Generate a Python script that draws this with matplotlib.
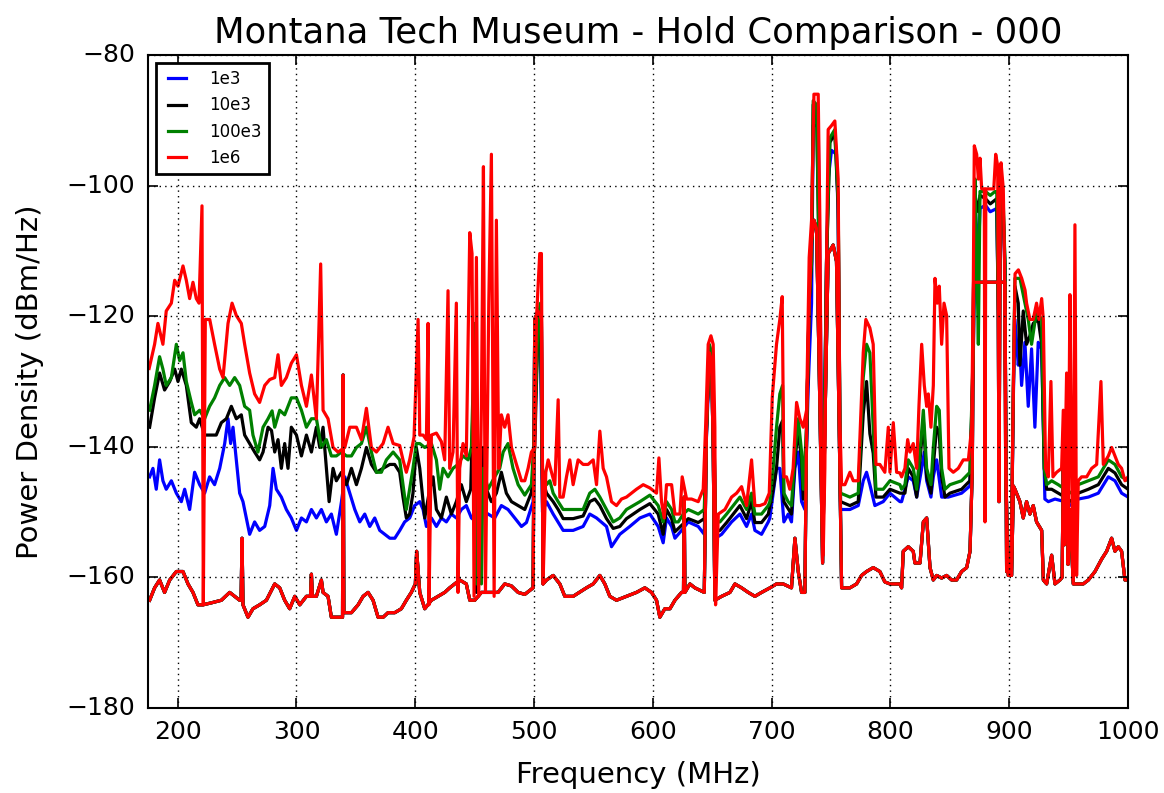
import matplotlib
matplotlib.use("Agg")
import matplotlib.pyplot as plt

# Max-hold traces (frequency MHz, power density dBm/Hz) per RBW setting
RED_MAX = [
    (176.0, -128.0), (180.6, -124.3), (183.4, -121.1), (187.6, -124.3), (190.4, -119.2), (194.7, -118.0),
    (197.5, -114.5), (200.3, -115.4), (204.5, -112.3), (207.3, -114.5), (210.1, -117.3), (212.9, -114.8),
    (215.7, -117.3), (218.0, -118.0), (220.5, -103.1), (221.6, -164.2), (223.3, -120.5), (227.0, -120.5),
    (231.1, -124.3), (235.4, -128.1), (238.2, -129.4), (242.4, -121.1), (245.8, -118.0), (249.4, -119.9),
    (253.6, -121.1), (256.4, -124.3), (260.6, -128.7), (264.8, -131.9), (269.0, -133.2), (273.3, -130.6),
    (277.5, -129.7), (281.7, -129.4), (284.5, -125.9), (287.3, -130.6), (291.5, -129.4), (295.7, -127.2),
    (300.0, -125.9), (304.2, -130.6), (308.4, -133.8), (312.6, -129.0), (316.8, -135.7), (320.4, -112.0),
    (322.4, -134.4), (326.6, -135.7), (330.8, -140.1), (335.0, -140.8), (340.7, -140.1), (344.9, -137.0),
    (350.5, -137.0), (354.7, -138.9), (358.9, -134.1), (363.1, -140.1), (367.3, -140.8), (372.9, -139.5),
    (377.1, -137.0), (381.4, -139.5), (386.9, -139.8), (389.7, -142.0), (392.5, -143.9), (395.3, -142.0),
    (399.0, -138.5), (402.4, -120.5), (403.8, -138.2), (406.6, -138.2), (409.4, -138.9), (410.8, -121.1),
    (411.6, -164.2), (413.6, -138.2), (417.8, -137.9), (422.0, -139.2), (424.8, -142.0), (427.6, -116.1),
    (429.0, -143.3), (431.8, -140.8), (434.6, -118.0), (436.0, -162.3), (437.4, -143.3), (440.2, -139.5),
    (443.0, -141.4), (445.9, -107.2), (447.8, -110.4), (449.5, -162.9), (451.5, -111.0), (453.4, -162.9),
    (455.7, -133.8), (457.4, -97.1), (459.1, -162.3), (461.9, -118.0), (464.1, -95.2), (466.4, -162.9),
    (468.3, -105.3), (470.3, -143.3), (472.5, -135.1), (475.3, -137.0), (478.1, -135.1), (481.0, -140.1),
    (485.2, -142.7), (489.4, -145.2), (492.2, -145.2), (495.0, -143.3), (497.8, -140.8), (500.6, -140.1),
    (502.0, -120.5), (504.8, -110.4), (506.2, -110.4), (507.6, -161.0), (509.9, -143.9), (511.9, -142.0),
    (514.7, -143.9), (517.5, -145.8), (520.3, -132.8), (521.7, -147.7), (524.5, -147.7), (527.3, -144.6),
    (530.1, -142.0), (532.9, -145.8), (537.1, -142.0), (541.3, -142.7), (545.5, -142.7), (549.8, -142.0),
    (552.6, -145.8), (555.4, -137.6), (558.2, -143.3), (561.0, -144.6), (565.2, -148.4), (569.4, -149.0),
    (573.6, -148.0), (577.8, -147.7), (582.0, -147.1), (586.2, -146.5), (591.9, -145.8), (597.5, -146.3),
    (603.1, -147.1), (605.1, -141.7), (607.3, -148.4), (609.6, -150.9), (611.5, -145.8), (615.8, -145.8),
    (618.6, -150.3), (622.8, -150.3), (624.7, -144.6), (628.4, -148.0), (632.6, -148.0), (638.2, -148.4),
    (642.4, -146.5), (644.4, -137.0), (646.6, -124.3), (648.9, -123.0), (650.8, -124.3), (652.2, -137.0),
    (652.8, -164.2), (655.1, -150.3), (660.7, -149.6), (666.3, -147.7), (670.5, -147.1), (674.7, -146.1),
    (678.9, -149.0), (683.1, -142.0), (685.9, -149.0), (690.1, -149.0), (694.4, -148.7), (698.0, -147.1),
    (700.5, -132.5), (704.1, -124.3), (706.9, -120.5), (708.9, -117.0), (710.3, -144.6), (712.5, -144.6),
    (715.3, -146.5), (718.1, -143.3), (721.0, -133.2), (723.8, -135.7), (726.6, -137.0), (729.4, -134.4),
    (731.6, -111.0), (733.6, -105.3), (735.6, -86.0), (739.2, -86.0), (740.6, -105.3), (742.0, -143.3),
    (743.4, -156.6), (744.8, -143.3), (746.2, -111.6), (747.6, -91.4), (750.4, -90.8), (753.2, -90.1),
    (756.0, -99.0), (757.4, -135.7), (758.9, -145.8), (761.7, -145.8), (765.9, -143.9), (768.7, -145.2),
    (772.9, -145.2), (777.1, -125.6), (779.3, -120.5), (782.7, -121.8), (785.5, -124.3), (787.8, -142.7),
    (791.1, -142.7), (795.3, -143.9), (798.2, -137.0), (799.6, -143.9), (802.4, -136.3), (805.2, -143.9),
    (808.0, -144.0), (809.4, -144.6), (812.2, -143.3), (814.5, -138.9), (816.4, -140.8), (819.2, -139.5),
    (822.1, -143.3), (824.0, -133.8), (826.3, -124.3), (828.5, -130.6), (830.5, -133.8), (831.9, -131.9),
    (834.1, -137.0), (836.1, -130.6), (837.5, -114.2), (839.4, -118.0), (841.1, -115.4), (843.1, -124.3),
    (845.1, -118.0), (847.3, -119.9), (849.3, -143.3), (852.9, -143.9), (857.1, -143.3), (861.3, -142.0),
    (865.6, -142.0), (868.4, -137.0), (869.8, -114.2), (870.6, -93.9), (872.6, -95.2), (874.0, -99.0),
    (875.4, -95.8), (876.8, -100.5), (879.0, -100.5), (879.6, -151.5), (880.3, -100.5), (884.0, -100.5),
    (887.0, -100.5), (888.6, -95.2), (890.3, -97.0), (891.4, -148.4), (892.5, -100.0), (893.1, -96.5),
    (895.0, -100.5), (896.0, -111.6), (897.0, -143.3), (899.2, -159.7), (901.5, -159.7), (903.5, -130.6),
    (904.9, -113.5), (907.7, -112.9), (910.5, -114.2), (913.3, -116.0), (914.6, -118.0), (917.4, -120.5),
    (920.2, -120.5), (923.0, -118.0), (925.0, -120.5), (927.3, -117.3), (928.7, -120.5), (930.6, -143.3),
    (932.9, -144.6), (935.1, -130.0), (936.8, -144.6), (939.9, -143.9), (944.1, -143.3), (945.5, -134.4),
    (946.9, -143.3), (948.3, -128.7), (949.7, -149.6), (951.1, -116.7), (952.5, -143.3), (953.9, -160.4),
    (955.3, -106.0), (956.7, -159.7), (958.1, -145.2), (960.9, -144.6), (965.2, -144.6), (969.4, -143.3),
    (973.6, -142.7), (977.2, -130.0), (979.2, -142.7), (983.4, -141.4), (986.2, -140.1), (989.0, -141.4),
    (991.8, -142.7), (994.6, -143.3), (997.4, -145.2), (1000.0, -144.6),
]

GREEN_MAX = [
    (176.4, -134.4), (180.6, -130.6), (184.8, -126.2), (187.6, -128.1), (190.4, -130.6), (194.7, -129.4),
    (198.9, -124.3), (201.7, -126.8), (204.5, -125.6), (207.3, -130.0), (211.5, -133.2), (214.3, -135.1),
    (218.5, -134.4), (222.7, -135.7), (226.9, -133.8), (231.1, -132.5), (235.4, -130.6), (239.6, -129.4),
    (243.8, -130.6), (248.0, -129.4), (252.2, -130.6), (256.4, -133.8), (260.6, -134.4), (263.4, -138.2),
    (267.6, -140.8), (271.9, -137.0), (276.1, -135.7), (279.5, -134.5), (281.7, -137.0), (285.9, -134.4),
    (290.1, -135.1), (295.7, -132.5), (300.0, -132.5), (304.2, -134.4), (308.4, -137.0), (312.6, -135.7),
    (316.8, -135.7), (321.0, -140.1), (325.2, -138.9), (329.4, -141.4), (333.6, -141.4), (337.9, -140.8),
    (342.1, -141.4), (346.3, -141.4), (350.5, -140.1), (354.7, -139.5), (358.9, -137.0), (363.1, -140.8),
    (367.3, -143.9), (371.5, -143.9), (375.7, -142.0), (381.4, -140.8), (386.9, -142.0), (389.7, -145.8),
    (392.5, -149.6), (395.3, -146.5), (398.1, -143.3), (400.9, -139.5), (403.8, -139.5), (408.0, -140.1),
    (413.6, -139.5), (417.8, -142.0), (420.6, -146.5), (423.4, -143.3), (427.6, -144.6), (431.8, -143.3),
    (436.0, -142.7), (440.2, -141.4), (444.5, -142.0), (447.3, -140.1), (450.1, -121.1), (451.5, -161.0),
    (452.9, -143.3), (455.7, -161.0), (457.1, -143.3), (461.3, -146.5), (466.9, -144.6), (471.1, -143.3),
    (474.0, -140.8), (478.1, -139.5), (482.3, -143.3), (486.6, -145.8), (492.2, -147.4), (497.8, -145.8),
    (500.6, -137.0), (503.4, -120.5), (505.4, -118.0), (507.1, -143.3), (510.5, -145.8), (513.3, -145.2),
    (516.1, -147.1), (520.3, -148.4), (524.5, -149.6), (532.9, -149.6), (541.3, -149.6), (546.9, -147.1),
    (551.2, -146.5), (555.4, -147.7), (561.0, -149.6), (566.6, -151.5), (572.2, -150.9), (577.8, -149.6),
    (583.4, -149.0), (589.1, -148.4), (597.5, -147.4), (604.5, -149.0), (608.7, -151.5), (611.5, -148.4),
    (615.8, -149.6), (618.6, -151.5), (621.4, -151.5), (625.6, -150.3), (629.8, -149.6), (638.2, -150.3),
    (643.3, -149.6), (645.2, -137.0), (647.5, -124.3), (649.4, -125.6), (651.7, -140.1), (652.8, -151.5),
    (656.5, -151.5), (662.1, -150.3), (667.7, -149.0), (673.3, -147.7), (678.9, -149.6), (683.1, -147.1),
    (685.9, -150.3), (691.5, -150.3), (697.2, -149.0), (698.5, -148.4), (701.3, -143.3), (704.1, -137.0),
    (706.9, -131.9), (709.2, -130.6), (710.3, -147.1), (713.9, -148.4), (716.7, -149.0), (719.6, -140.8),
    (722.4, -135.7), (725.2, -140.8), (726.6, -146.5), (729.4, -137.0), (731.6, -116.7), (733.6, -111.6),
    (735.0, -87.0), (737.8, -87.6), (740.0, -111.6), (741.2, -133.8), (743.4, -150.0), (746.2, -111.6),
    (749.0, -92.7), (753.2, -91.4), (756.0, -102.2), (758.0, -147.1), (765.9, -147.7), (772.9, -147.1),
    (777.1, -129.4), (779.9, -124.3), (782.7, -125.6), (785.5, -137.0), (787.8, -146.5), (793.9, -146.5),
    (799.6, -145.2), (808.0, -145.8), (809.4, -146.5), (812.2, -145.8), (815.0, -142.0), (819.2, -143.3),
    (822.1, -146.5), (824.9, -140.8), (827.7, -134.4), (830.5, -143.3), (834.1, -145.8), (836.1, -140.1),
    (838.9, -133.8), (841.1, -134.4), (843.1, -143.3), (845.9, -146.5), (850.1, -145.8), (859.9, -145.2),
    (866.9, -143.9), (869.8, -124.3), (871.2, -99.0), (872.6, -110.0), (874.0, -124.3), (875.4, -100.9),
    (880.0, -100.9), (884.0, -101.5), (888.0, -100.9), (889.5, -100.9), (890.8, -120.0), (891.4, -148.4),
    (892.4, -101.0), (894.8, -101.5), (896.4, -111.6), (897.0, -143.3), (899.2, -159.7), (901.5, -159.7),
    (903.5, -130.0), (904.8, -114.2), (909.0, -114.2), (911.8, -116.7), (916.0, -120.5), (918.8, -124.3),
    (923.0, -119.2), (927.3, -120.5), (929.5, -143.3), (931.5, -145.8), (935.7, -145.2), (941.3, -145.8),
    (946.9, -146.5), (952.5, -147.1), (958.1, -145.8), (966.6, -145.2), (975.0, -144.6), (983.4, -142.0),
    (989.0, -142.7), (994.6, -144.6), (1000.0, -145.2),
]

BLACK_MAX = [
    (176.4, -137.0), (180.6, -132.5), (184.8, -128.7), (189.0, -131.3), (193.3, -130.0), (197.5, -128.1),
    (200.3, -130.0), (203.1, -128.1), (207.3, -130.6), (211.5, -136.3), (215.7, -137.0), (218.5, -135.7),
    (222.7, -138.2), (228.3, -138.2), (232.5, -138.2), (236.8, -136.3), (241.0, -135.7), (245.2, -133.8),
    (249.4, -135.7), (253.6, -135.1), (256.4, -138.2), (260.6, -139.5), (264.8, -140.8), (269.0, -142.0),
    (271.9, -140.8), (276.1, -137.0), (279.0, -137.5), (281.7, -140.8), (284.5, -138.9), (287.3, -143.3),
    (290.1, -139.5), (292.9, -143.3), (295.7, -137.0), (300.0, -138.2), (304.2, -141.4), (308.4, -138.2),
    (312.6, -140.8), (316.8, -137.0), (319.6, -140.1), (322.4, -137.0), (325.2, -143.3), (327.5, -148.4),
    (330.8, -143.3), (333.6, -145.2), (337.9, -143.9), (342.1, -145.8), (346.3, -143.3), (350.5, -145.8),
    (354.7, -143.3), (358.9, -140.1), (363.1, -142.7), (367.3, -143.9), (373.0, -143.3), (378.6, -142.7),
    (382.7, -142.7), (386.9, -143.9), (389.7, -147.7), (392.5, -150.9), (395.3, -150.3), (398.1, -147.1),
    (400.9, -140.1), (403.8, -143.3), (408.0, -150.9), (412.2, -146.5), (415.0, -144.6), (417.8, -149.6),
    (422.0, -150.9), (426.2, -147.7), (430.4, -150.3), (434.6, -148.4), (438.8, -145.8), (443.0, -148.4),
    (446.7, -146.5), (450.1, -124.3), (451.5, -162.3), (454.3, -146.5), (457.1, -140.1), (459.9, -146.5),
    (464.1, -148.4), (468.3, -147.1), (472.5, -143.9), (476.7, -147.1), (481.0, -148.4), (486.6, -149.0),
    (492.2, -149.6), (497.8, -147.0), (500.6, -140.0), (503.4, -121.1), (505.4, -120.0), (507.1, -145.0),
    (510.5, -147.1), (516.1, -148.4), (520.3, -149.6), (524.5, -151.0), (532.9, -151.0), (541.3, -150.6),
    (546.9, -148.4), (551.2, -148.0), (555.4, -149.0), (561.0, -151.0), (566.6, -152.5), (572.2, -152.2),
    (577.8, -151.0), (583.4, -150.3), (589.1, -149.6), (597.5, -148.7), (604.5, -150.3), (608.7, -153.4),
    (611.5, -149.6), (615.8, -151.0), (618.6, -153.0), (625.6, -151.8), (629.8, -151.0), (638.2, -151.6),
    (643.3, -151.0), (645.2, -137.0), (647.5, -124.5), (649.4, -126.0), (651.7, -140.1), (652.8, -153.0),
    (656.5, -152.8), (662.1, -151.6), (667.7, -150.3), (673.3, -149.0), (678.9, -151.0), (683.1, -148.4),
    (685.9, -151.6), (691.5, -151.6), (697.2, -150.3), (701.3, -146.5), (704.1, -143.3), (706.9, -137.0),
    (709.2, -136.0), (710.3, -148.4), (716.7, -150.3), (719.6, -142.0), (722.4, -137.5), (725.2, -142.0),
    (726.6, -148.0), (729.4, -140.0), (731.6, -118.0), (733.6, -112.0), (735.0, -87.6), (737.8, -88.2),
    (740.0, -112.0), (741.2, -135.0), (743.4, -151.0), (746.2, -112.0), (749.0, -93.4), (753.2, -92.0),
    (756.0, -103.0), (758.0, -148.4), (765.9, -149.0), (772.9, -148.4), (777.1, -135.0), (779.9, -130.0),
    (782.7, -138.0), (785.5, -141.0), (787.8, -147.7), (793.9, -147.7), (799.6, -146.5), (808.0, -147.1),
    (812.2, -147.1), (815.0, -143.3), (819.2, -144.6), (822.1, -147.7), (824.9, -142.0), (827.7, -136.0),
    (830.5, -144.6), (834.1, -147.1), (838.9, -137.0), (841.1, -138.0), (843.1, -144.6), (845.9, -147.7),
    (850.1, -147.1), (859.9, -146.5), (866.9, -145.2), (869.8, -125.0), (871.2, -101.5), (874.0, -104.0),
    (875.4, -101.5), (880.0, -102.0), (884.0, -102.8), (889.5, -102.0), (890.8, -120.0), (891.4, -148.4),
    (892.4, -102.0), (894.8, -102.8), (896.4, -112.0), (897.0, -143.3), (899.2, -159.7), (901.5, -159.7),
    (903.5, -131.0), (904.8, -115.4), (907.6, -118.0), (909.0, -127.5), (911.8, -119.2), (914.6, -124.3),
    (917.4, -123.0), (920.2, -121.1), (924.4, -120.5), (927.3, -124.3), (929.5, -143.3), (931.5, -146.5),
    (935.7, -146.5), (941.3, -147.1), (946.9, -147.7), (952.5, -148.4), (958.1, -147.1), (966.6, -146.5),
    (975.0, -145.8), (983.4, -143.3), (989.0, -144.0), (994.6, -145.8), (1000.0, -146.5),
]

BLUE_MAX = [
    (176.4, -144.6), (179.2, -143.3), (182.0, -146.5), (184.8, -142.0), (187.6, -145.2), (190.4, -146.5),
    (194.7, -145.2), (198.9, -147.1), (203.1, -148.4), (205.9, -146.5), (210.1, -149.6), (214.3, -143.9),
    (218.5, -145.8), (222.7, -147.1), (226.9, -144.6), (231.1, -145.8), (235.4, -143.3), (239.6, -139.5),
    (242.4, -135.7), (244.6, -139.5), (246.6, -137.0), (249.4, -142.0), (252.2, -147.1), (255.0, -148.4),
    (257.8, -150.9), (260.6, -153.4), (264.8, -151.5), (269.0, -152.8), (273.3, -152.2), (277.5, -149.0),
    (280.3, -143.3), (283.1, -146.5), (287.3, -147.7), (291.5, -149.6), (295.7, -150.9), (300.0, -152.8),
    (304.2, -150.9), (308.4, -151.5), (312.6, -149.6), (316.8, -150.9), (321.0, -149.6), (325.2, -151.5),
    (329.4, -150.3), (333.6, -153.4), (337.9, -148.4), (340.7, -144.6), (344.9, -147.1), (349.1, -149.6),
    (353.3, -151.5), (357.5, -150.3), (361.7, -152.2), (365.9, -150.9), (370.1, -152.8), (374.3, -153.4),
    (378.6, -154.0), (382.8, -154.0), (387.0, -152.8), (391.1, -151.5), (395.3, -150.9), (399.5, -149.0),
    (403.8, -148.4), (406.6, -149.6), (409.4, -152.2), (413.6, -150.9), (417.8, -152.2), (422.0, -150.9),
    (426.2, -151.5), (430.4, -150.3), (434.6, -150.9), (438.8, -149.6), (443.0, -149.0), (447.3, -150.9),
    (451.5, -151.5), (455.7, -149.6), (461.3, -150.3), (466.9, -150.9), (472.5, -149.0), (478.1, -149.6),
    (483.8, -150.9), (489.4, -152.2), (493.6, -151.6), (499.2, -148.4), (501.5, -130.0), (503.4, -122.0),
    (505.4, -122.5), (507.1, -150.0), (510.5, -148.4), (516.1, -150.3), (524.5, -152.8), (532.9, -152.8),
    (541.3, -152.2), (546.9, -150.3), (552.6, -150.9), (561.0, -152.2), (565.2, -155.3), (572.2, -153.4),
    (580.6, -152.2), (589.1, -150.9), (597.5, -150.3), (604.5, -152.2), (608.7, -154.7), (611.5, -150.9),
    (615.8, -152.2), (618.6, -154.0), (624.2, -152.8), (629.8, -151.5), (638.2, -152.2), (643.3, -153.4),
    (645.2, -138.0), (648.0, -125.6), (650.0, -127.0), (651.7, -141.0), (652.8, -154.0), (657.9, -153.4),
    (666.3, -151.5), (673.3, -150.3), (678.9, -152.2), (683.1, -150.3), (685.9, -152.8), (691.5, -153.4),
    (697.2, -151.5), (698.5, -150.9), (704.1, -143.3), (706.9, -143.3), (710.3, -151.5), (714.0, -150.3),
    (716.7, -151.5), (719.6, -143.3), (722.4, -140.8), (725.2, -148.4), (728.0, -149.6), (730.8, -130.6),
    (733.6, -118.0), (735.0, -90.8), (739.2, -90.8), (740.6, -111.6), (742.0, -137.0), (743.4, -152.0),
    (746.2, -111.6), (747.6, -99.0), (750.4, -94.6), (754.6, -95.2), (756.0, -105.3), (758.0, -149.6),
    (765.9, -149.6), (772.9, -149.0), (777.1, -145.2), (779.9, -143.9), (782.7, -145.8), (786.9, -149.0),
    (793.9, -148.4), (799.6, -147.1), (808.0, -148.4), (809.4, -148.4), (815.0, -144.6), (819.2, -145.2),
    (822.1, -147.7), (826.3, -143.3), (828.5, -140.8), (830.5, -145.2), (834.1, -147.7), (836.1, -144.6),
    (838.9, -142.0), (843.1, -147.7), (848.7, -147.7), (859.9, -147.1), (866.9, -146.0), (869.8, -126.0),
    (871.2, -103.0), (874.0, -111.0), (875.4, -103.5), (880.0, -103.0), (884.0, -104.0), (889.5, -103.5),
    (890.8, -120.0), (891.4, -148.4), (892.4, -103.5), (894.8, -104.0), (896.4, -113.0), (897.0, -143.3),
    (899.2, -159.7), (901.5, -159.7), (903.5, -132.0), (904.8, -120.5), (907.6, -127.5), (909.0, -125.0),
    (910.4, -130.6), (913.2, -124.0), (916.0, -133.8), (918.8, -125.0), (921.6, -137.0), (924.4, -124.0),
    (927.3, -125.0), (930.0, -148.0), (932.9, -148.4), (938.5, -148.0), (946.9, -148.4), (952.5, -149.0),
    (958.1, -148.0), (966.6, -147.7), (975.0, -147.1), (983.4, -144.6), (989.0, -145.2), (994.6, -147.1),
    (1000.0, -147.7),
]

# Min-hold trace, common to all four settings
MIN_HOLD = [
    (176.4, -163.5), (180.6, -161.6), (184.8, -160.4), (189.0, -162.3), (193.3, -160.4), (198.9, -159.1),
    (204.5, -159.1), (208.7, -161.0), (212.9, -162.3), (217.1, -164.2), (221.3, -164.2), (228.3, -163.9),
    (236.8, -163.5), (243.8, -162.3), (248.0, -162.9), (252.2, -163.5), (253.4, -163.5), (254.2, -154.0),
    (255.0, -164.2), (259.2, -166.1), (263.4, -164.8), (269.0, -164.2), (274.7, -163.5), (281.7, -161.0),
    (285.9, -161.6), (290.1, -163.5), (294.3, -164.8), (298.6, -162.9), (302.8, -164.2), (308.4, -162.9),
    (311.8, -162.9), (312.6, -159.5), (313.4, -162.9), (316.8, -162.9), (321.0, -160.4), (322.4, -162.3),
    (326.6, -162.9), (329.4, -166.1), (337.9, -166.1), (338.8, -166.1), (339.3, -129.0), (339.9, -165.4),
    (346.3, -165.4), (351.9, -164.2), (356.1, -162.9), (360.3, -162.3), (364.5, -163.5), (368.7, -166.1),
    (373.0, -166.1), (377.1, -165.4), (382.8, -165.4), (388.3, -164.8), (392.5, -163.5), (396.7, -162.3),
    (400.1, -161.0), (401.2, -156.0), (403.8, -162.3), (408.0, -164.8), (413.6, -163.5), (419.2, -162.9),
    (424.8, -162.3), (429.0, -161.6), (433.2, -161.0), (437.4, -160.4), (443.0, -161.0), (445.9, -163.5),
    (450.1, -163.5), (455.7, -162.3), (464.1, -162.3), (469.7, -162.3), (475.3, -161.0), (480.9, -161.3),
    (486.6, -162.3), (492.2, -162.6), (499.2, -161.6), (500.6, -120.5), (503.4, -119.2), (506.2, -120.5),
    (507.6, -161.0), (510.5, -160.4), (516.1, -159.7), (521.7, -161.0), (525.9, -162.9), (532.9, -162.9),
    (544.1, -161.6), (549.8, -161.0), (555.4, -159.7), (559.6, -161.0), (563.8, -162.9), (569.4, -163.5),
    (577.8, -162.9), (586.2, -162.3), (593.3, -161.6), (598.9, -162.3), (603.1, -163.5), (605.9, -166.1),
    (610.1, -164.8), (614.4, -164.8), (618.6, -163.5), (624.2, -162.3), (625.8, -162.3), (626.4, -147.7),
    (627.0, -162.3), (631.2, -161.0), (635.4, -161.6), (643.3, -162.3), (645.2, -137.0), (647.5, -125.6),
    (649.4, -126.8), (650.8, -140.1), (652.2, -163.5), (657.9, -162.9), (664.9, -162.3), (669.1, -161.0),
    (674.7, -161.6), (680.3, -162.3), (685.9, -162.9), (691.5, -162.3), (698.6, -161.6), (704.1, -161.0),
    (709.7, -161.0), (716.7, -161.6), (719.6, -154.0), (722.4, -159.1), (725.2, -162.3), (728.0, -162.3),
    (729.4, -137.0), (731.6, -118.0), (733.6, -108.5), (735.6, -105.3), (737.8, -106.6), (740.6, -133.8),
    (742.9, -157.8), (744.8, -137.0), (747.6, -110.4), (751.8, -109.1), (754.6, -111.6), (757.4, -143.3),
    (758.9, -161.6), (765.9, -161.6), (771.5, -161.0), (775.7, -159.7), (779.9, -159.1), (785.5, -158.5),
    (791.1, -159.1), (795.3, -160.7), (799.6, -161.0), (808.0, -161.0), (809.4, -161.6), (810.8, -156.0),
    (815.0, -155.3), (819.2, -156.0), (820.6, -157.8), (824.9, -157.8), (827.7, -151.5), (830.5, -150.9),
    (833.3, -158.5), (836.1, -160.4), (838.9, -159.7), (843.1, -160.1), (847.3, -159.7), (851.5, -160.4),
    (855.7, -160.4), (859.9, -159.1), (864.2, -158.5), (867.0, -156.0), (868.9, -143.3), (870.0, -114.8),
    (888.0, -114.8), (896.4, -114.8), (897.8, -159.1), (902.0, -159.7), (903.5, -146.0), (904.8, -146.5),
    (909.0, -148.4), (911.8, -150.9), (914.6, -148.4), (917.4, -150.3), (920.2, -149.0), (923.0, -151.5),
    (927.3, -152.8), (928.7, -160.4), (931.5, -161.0), (935.7, -156.6), (938.5, -161.0), (942.7, -160.4),
    (944.5, -160.0), (945.5, -143.3), (946.5, -155.0), (948.3, -137.0), (949.5, -158.0), (951.1, -149.6),
    (953.9, -161.0), (958.1, -161.0), (962.3, -161.0), (966.6, -160.4), (972.2, -159.1), (977.8, -157.2),
    (982.0, -156.0), (986.2, -154.0), (989.0, -156.0), (991.8, -155.3), (994.6, -156.0), (997.4, -160.4),
    (1000.0, -160.4),
]

SERIES = [("1e3", "b", BLUE_MAX), ("10e3", "k", BLACK_MAX), ("100e3", "g", GREEN_MAX), ("1e6", "r", RED_MAX)]
X_TICKS = [200, 300, 400, 500, 600, 700, 800, 900, 1000]
Y_TICKS = [-180, -160, -140, -120, -100, -80]

plt.style.use("classic")
plt.rcParams["font.family"] = ["DejaVu Sans"]

fig = plt.figure(figsize=(11.64, 7.93), dpi=100, facecolor="white")
ax = fig.add_axes([0.1271, 0.1072, 0.8420, 0.8234])
ax.set_facecolor("white")

fmin, vmin = zip(*MIN_HOLD)
for label, color, trace in SERIES:
    f, v = zip(*trace)
    ax.plot(f, v, color=color, lw=2.3, label=label)
    ax.plot(fmin, vmin, color=color, lw=2.3)

ax.set_xlim(175, 1000)
ax.set_ylim(-180, -80)
ax.set_xticks(X_TICKS)
ax.set_yticks(Y_TICKS)
ax.grid(True, color="k", linestyle=":", linewidth=1.0)
ax.tick_params(axis="both", which="major", direction="in", length=7, width=1.2,
               labelsize=18, pad=9, top=True, right=True)
for sp in ax.spines.values():
    sp.set_linewidth(1.5)

ax.set_title("Montana Tech Museum - Hold Comparison - 000", fontsize=25.5, pad=9)
ax.set_xlabel("Frequency (MHz)", fontsize=21, labelpad=12)
ax.set_ylabel("Power Density (dBm/Hz)", fontsize=21, labelpad=16)

leg = ax.legend(loc="upper left", fontsize=12, handlelength=1.7, handletextpad=1.1,
                labelspacing=0.5, borderaxespad=0.5, fancybox=False)
leg.get_frame().set_linewidth(2.0)
leg.get_frame().set_edgecolor("k")
for line in leg.get_lines():
    line.set_linewidth(2.3)

fig.savefig("out.png", dpi=100, facecolor="white")
